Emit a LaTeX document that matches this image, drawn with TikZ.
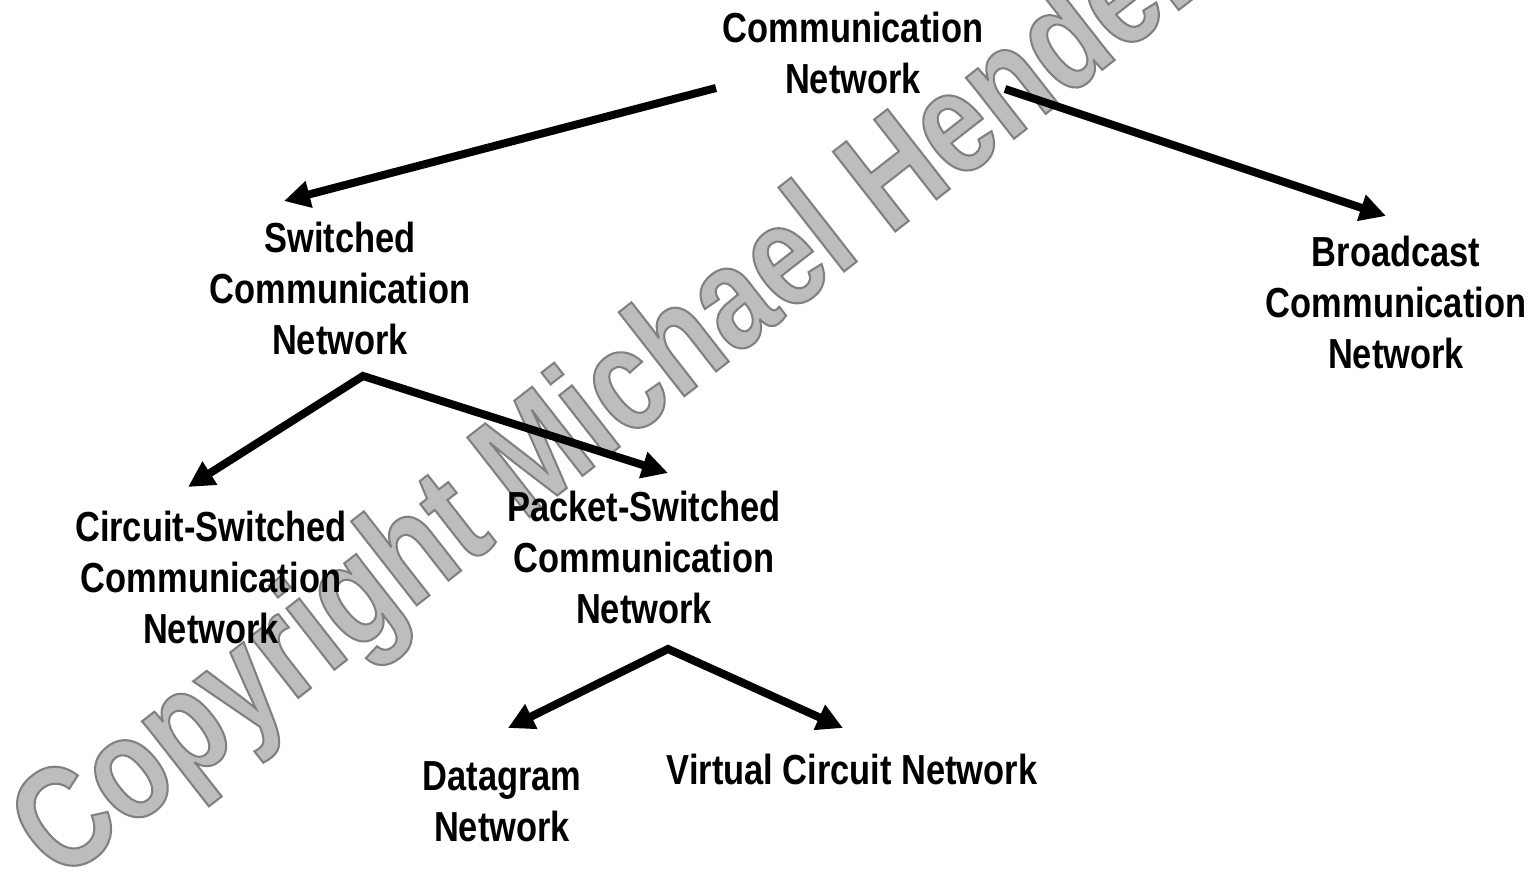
\documentclass[tikz,border=0pt]{standalone}
\usepackage{fontspec}
\setmainfont{Liberation Sans}
\newfontfamily\lblfont{Liberation Sans Bold}[FakeStretch=0.82]
\newfontfamily\wmfont{Liberation Sans Bold}[FakeStretch=0.80,FakeBold=1.4]
\usetikzlibrary{arrows.meta}
\newcommand{\wmwords}{\special{pdf:literal direct 0.5 G}Copyright Michael Henderson}
\tikzset{
  lbl/.style={align=center, inner sep=0pt, anchor=base, text=black,
    font=\lblfont\fontsize{42}{51}\selectfont},
  conn/.style={line width=8pt, -{Triangle[length=26pt,width=26pt]}},
  fork/.style={line width=8pt, line join=miter,
    {Triangle[length=26pt,width=26pt]}-{Triangle[length=26pt,width=26pt]}},
  wm/.style={inner sep=0pt, anchor=base west, rotate=38, text=black!26,
    font=\wmfont\fontsize{147}{150}\selectfont},
}
\begin{document}
\begin{tikzpicture}[x=1pt,y=-1pt]
\useasboundingbox (0,0) rectangle (1532,872);
\clip (0,0) rectangle (1532,872);
\fill[white] (0,0) rectangle (1532,872);
% watermark (outlined letters)
\node[wm] (mark) at (60,884) {\wmwords};
% labels (anchor = baseline of last line)
\node[lbl] (root) at (853,94) {Communication\\Network};
\node[lbl] (sw) at (340,354) {Switched\\Communication\\Network};
\node[lbl] (bc) at (1396,368) {Broadcast\\Communication\\Network};
\node[lbl] (cs) at (211,643) {Circuit-Switched\\Communication\\Network};
\node[lbl] (ps) at (644,623) {Packet-Switched\\Communication\\Network};
\node[lbl] (dg) at (502,841) {Datagram\\Network};
\node[lbl] (vc) at (852,784) {Virtual Circuit Network};
% connector end points
\coordinate (r1) at (716,88);
\coordinate (r2) at (1005,89);
\coordinate (swtip) at (284,201);
\coordinate (bctip) at (1386,216);
\coordinate (swfork) at (363,376);
\coordinate (cstip) at (188,487);
\coordinate (pstip) at (668,473);
\coordinate (psfork) at (668,649);
\coordinate (dgtip) at (508,728);
\coordinate (vctip) at (843,728);
% connectors
\draw[conn] (r1) -- (swtip);
\draw[conn] (r2) -- (bctip);
\draw[fork] (cstip) -- (swfork) -- (pstip);
\draw[fork] (dgtip) -- (psfork) -- (vctip);
\end{tikzpicture}
\end{document}
